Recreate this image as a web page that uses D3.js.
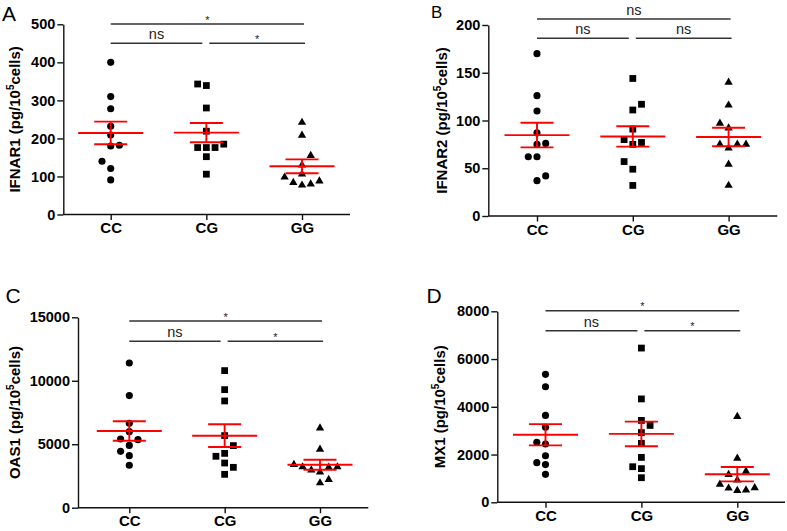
<!DOCTYPE html>
<html><head><meta charset="utf-8">
<script src="https://cdn.jsdelivr.net/npm/d3@7"></script>
<style>body{margin:0;background:#fff} svg{display:block}</style>
</head><body>
<svg id="chart" width="787" height="531"></svg>
<script>
const categories = ["CC", "CG", "GG"];

// Panel A: IFNAR1
const ifnar1CC = [400, 310, 278, 232, 209, 180, 182, 140, 121, 91];
const ifnar1CG = [343, 339, 280, 219, 176, 176, 176, 185, 152, 106];
const ifnar1GG = [242, 208, 155, 130, 106, 98, 84, 77, 80, 88];
const ifnar1Ticks = [0, 100, 200, 300, 400, 500];
const ifnar1Sig = ["*", "ns", "*"];

// Panel B: IFNAR2
const ifnar2CC = [170, 126, 110, 87, 75, 76, 62, 62, 37, 42];
const ifnar2CG = [144, 117, 111, 91, 80, 75, 77, 57, 49, 32];
const ifnar2GG = [140, 116, 97, 92, 75, 71, 75, 75, 54, 32];
const ifnar2Ticks = [0, 50, 100, 150, 200];
const ifnar2Sig = ["ns", "ns", "ns"];

// Panel C: OAS1
const oas1CC = [11400, 8830, 6650, 5990, 5410, 5360, 4910, 4440, 4100, 3340];
const oas1CG = [10800, 9300, 8410, 5680, 4890, 4280, 4050, 3520, 3180, 2630];
const oas1GG = [6280, 4600, 3390, 3210, 2970, 2810, 3180, 3210, 1950, 2210];
const oas1Ticks = [0, 5000, 10000, 15000];
const oas1Sig = ["*", "ns", "*"];

// Panel D: MX1
const mx1CC = [5360, 4840, 3640, 3140, 2510, 2440, 1950, 1660, 1580, 1170];
const mx1CG = [6460, 4330, 3430, 3220, 2920, 2470, 1880, 1490, 1410, 1030];
const mx1GG = [3590, 1840, 1160, 1300, 930, 750, 590, 490, 515, 610];
const mx1Ticks = [0, 2000, 4000, 6000, 8000];
const mx1Sig = ["*", "ns", "*"];

// scatter column index of each point (0 = centre column, +/-n = side columns)
const ifnar1Cols = [[0,0,0,0,0,0,1,-1,0,0], [-1,0,0,0,-1,0,1,2,0,0], [0,0,1,0,0,-2,-1,0,1,2]];
const ifnar2Cols = [[0,0,0,0,0,1,-1,0,0,1], [0,1,0,0,-1,0,1,-1,0,0], [0,0,-1,0,-1,0,1,2,0,0]];
const oas1Cols   = [[0,0,0,0,-1,1,0,-1,0,0], [0,0,0,0,1,0,-1,0,1,0], [0,0,-3,-2,-1,0,1,2,0,1]];
const mx1Cols    = [[0,0,0,0,-1,0,0,-1,0,0], [0,0,0,1,0,0,0,-1,0,0], [0,0,-1,1,0,-2,-1,0,1,2]];

const font = "'Liberation Sans', Arial, Helvetica, sans-serif";
const svg = d3.select("#chart");
svg.append("rect").attr("width", 787).attr("height", 531).attr("fill", "#fff");

const panels = [
  {letter: "A", lsize: 21, lx: 2, ly: 21, name: "IFNAR1", labelX: 20,
   groups: [ifnar1CC, ifnar1CG, ifnar1GG], cols: ifnar1Cols, ticks: ifnar1Ticks, sig: ifnar1Sig,
   axisX: 63.3, xRight: 350, y0: 214.5, yTop: 24.3, xFirst: 110.7, xLast: 302, top: 24, low: 43.3},
  {letter: "B", lsize: 17, lx: 431, ly: 17.5, name: "IFNAR2", labelX: 447,
   groups: [ifnar2CC, ifnar2CG, ifnar2GG], cols: ifnar2Cols, ticks: ifnar2Ticks, sig: ifnar2Sig,
   axisX: 488.3, xRight: 777.3, y0: 216, yTop: 25, xFirst: 537, xLast: 728.6, top: 19, low: 38.3},
  {letter: "C", lsize: 21, lx: 5.5, ly: 303, name: "OAS1", labelX: 20,
   groups: [oas1CC, oas1CG, oas1GG], cols: oas1Cols, ticks: oas1Ticks, sig: oas1Sig,
   axisX: 78, xRight: 368.3, y0: 507.7, yTop: 317.3, xFirst: 129.3, xLast: 320, top: 321, low: 341.3},
  {letter: "D", lsize: 21, lx: 426.5, ly: 303, name: "MX1", labelX: 445,
   groups: [mx1CC, mx1CG, mx1GG], cols: mx1Cols, ticks: mx1Ticks, sig: mx1Sig,
   axisX: 497.3, xRight: 785, y0: 502.3, yTop: 311.3, xFirst: 545.5, xLast: 737.3, top: 310.7, low: 330.7}
];

const symbols = [
  d3.symbol().type(d3.symbolCircle).size(40),
  d3.symbol().type(d3.symbolSquare).size(46),
  d3.symbol().type(d3.symbolTriangle).size(30)
];
const colStep = 8.7;

panels.forEach(p => {
  const g = svg.append("g");
  const y = d3.scaleLinear().domain([0, d3.max(p.ticks)]).range([p.y0, p.yTop]);
  const x = d3.scalePoint().domain(categories).range([p.xFirst, p.xLast]);

  // panel letter
  g.append("text").attr("x", p.lx).attr("y", p.ly)
    .attr("font-family", font).attr("font-size", p.lsize).attr("fill", "#000")
    .text(p.letter);

  // y axis
  const ya = g.append("g").attr("transform", `translate(${p.axisX},0)`)
    .call(d3.axisLeft(y).tickValues(p.ticks).tickSize(6).tickSizeOuter(0).tickPadding(2).tickFormat(d3.format("d")));
  ya.select(".domain").attr("stroke", "#111").attr("stroke-width", 1.4);
  ya.selectAll(".tick line").attr("stroke", "#111").attr("stroke-width", 1.4);
  ya.selectAll(".tick text").attr("font-family", font).attr("font-size", 14.5)
    .attr("font-weight", "bold").attr("fill", "#000");

  // x axis
  g.append("line").attr("x1", p.axisX).attr("x2", p.xRight).attr("y1", p.y0).attr("y2", p.y0)
    .attr("stroke", "#111").attr("stroke-width", 1.4);
  const xa = g.append("g").attr("transform", `translate(0,${p.y0})`)
    .call(d3.axisBottom(x).tickSize(5.5).tickSizeOuter(0).tickPadding(2.5));
  xa.select(".domain").remove();
  xa.selectAll(".tick line").attr("stroke", "#111").attr("stroke-width", 1.4);
  xa.selectAll(".tick text").attr("font-family", font).attr("font-size", 15)
    .attr("font-weight", "bold").attr("fill", "#000");

  // y label
  const lab = g.append("text")
    .attr("transform", `translate(${p.labelX},${(p.y0 + p.yTop) / 2}) rotate(-90)`)
    .attr("text-anchor", "middle").attr("font-family", font).attr("font-size", 15)
    .attr("font-weight", "bold").attr("fill", "#000");
  lab.append("tspan").text(p.name + " (pg/10");
  lab.append("tspan").attr("dy", -6).attr("font-size", 10).text("5");
  lab.append("tspan").attr("dy", 6).text("cells)");

  // points
  p.groups.forEach((vals, gi) => {
    const cx = x(categories[gi]);
    g.append("g").selectAll("path").data(vals).join("path")
      .attr("d", symbols[gi])
      .attr("transform", (d, i) => `translate(${cx + p.cols[gi][i] * colStep},${y(d)})`)
      .attr("fill", "#000");
  });

  // mean ± SEM
  p.groups.forEach((vals, gi) => {
    const cx = x(categories[gi]);
    const m = d3.mean(vals);
    const sem = d3.deviation(vals) / Math.sqrt(vals.length);
    const eg = g.append("g").attr("stroke", "#ff0000").attr("stroke-width", 1.9);
    eg.append("line").attr("x1", cx - 32.5).attr("x2", cx + 32.5).attr("y1", y(m)).attr("y2", y(m));
    eg.append("line").attr("x1", cx - 16.5).attr("x2", cx + 16.5).attr("y1", y(m + sem)).attr("y2", y(m + sem));
    eg.append("line").attr("x1", cx - 16.5).attr("x2", cx + 16.5).attr("y1", y(m - sem)).attr("y2", y(m - sem));
    eg.append("line").attr("x1", cx).attr("x2", cx).attr("y1", y(m + sem)).attr("y2", y(m - sem));
  });

  // significance brackets
  const bx = [
    [x("CC"), x("GG") + 2, p.top],
    [x("CC"), x("CG") - 4, p.low],
    [x("CG") + 3, x("GG") + 3, p.low]
  ];
  bx.forEach((b, i) => {
    g.append("line").attr("x1", b[0]).attr("x2", b[1]).attr("y1", b[2]).attr("y2", b[2])
      .attr("stroke", "#333").attr("stroke-width", 1.4);
    const s = p.sig[i];
    const isStar = s === "*";
    g.append("text").attr("x", (b[0] + b[1]) / 2).attr("y", isStar ? b[2] - 0.5 : b[2] - 4)
      .attr("text-anchor", "middle").attr("font-family", font)
      .attr("font-size", isStar ? 11 : 14.5).attr("fill", "#222").text(s);
  });
});
</script>
</body></html>
